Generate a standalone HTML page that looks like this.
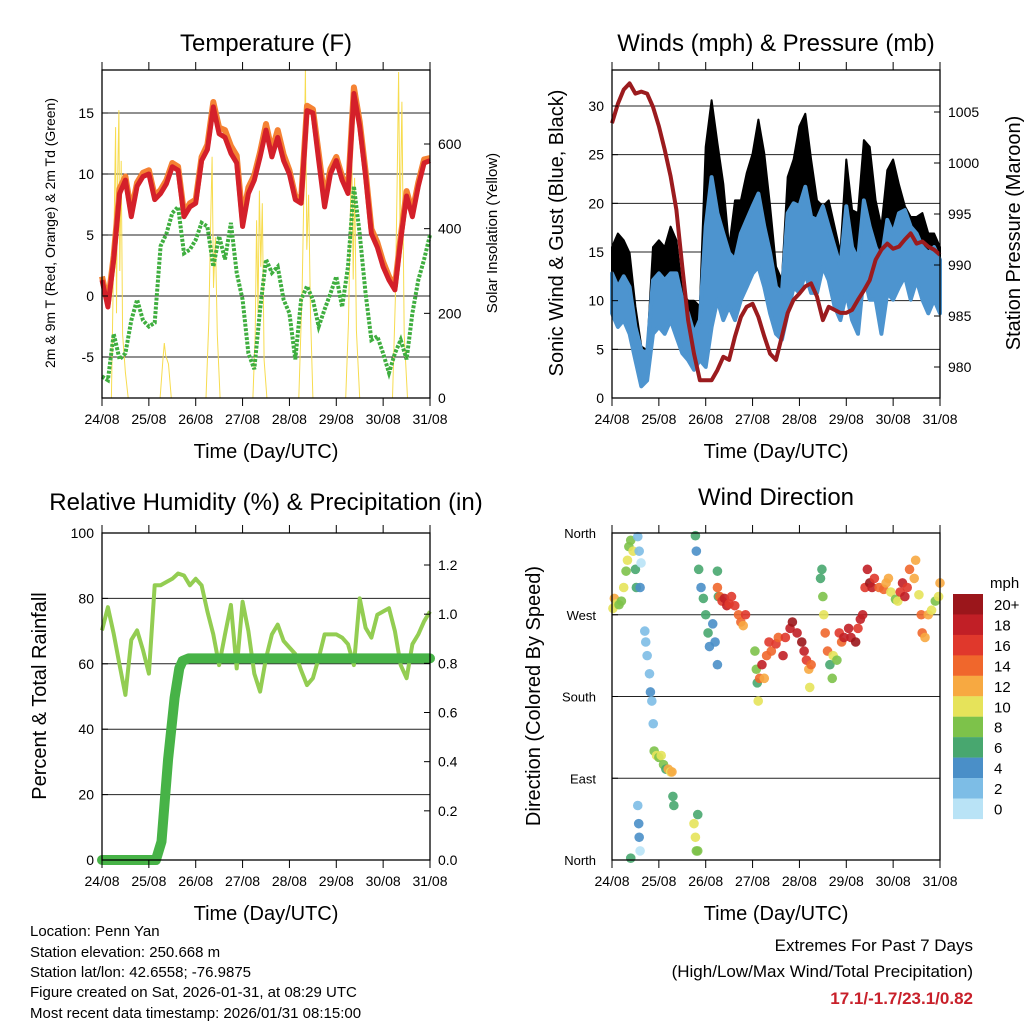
<!DOCTYPE html>
<html><head><meta charset="utf-8"><style>
body{margin:0;background:#fff;}
svg text{font-family:"Liberation Sans",sans-serif;fill:#000;}
</style></head><body>
<svg id="s" width="1024" height="1024" viewBox="0 0 1024 1024" xmlns="http://www.w3.org/2000/svg">
<rect width="1024" height="1024" fill="#fff"/>
<text x="266" y="51" font-size="24" text-anchor="middle">Temperature (F)</text>
<text x="776" y="51" font-size="24" text-anchor="middle">Winds (mph) &amp; Pressure (mb)</text>
<text x="266" y="510" font-size="24" text-anchor="middle">Relative Humidity (%) &amp; Precipitation (in)</text>
<text x="776" y="505" font-size="24" text-anchor="middle">Wind Direction</text>
<text transform="translate(55,233) rotate(-90)" font-size="14" text-anchor="middle">2m &amp; 9m T (Red, Orange) &amp; 2m Td (Green)</text>
<text transform="translate(497,233) rotate(-90)" font-size="15" text-anchor="middle">Solar Insolation (Yellow)</text>
<text transform="translate(563,233) rotate(-90)" font-size="20" text-anchor="middle">Sonic Wind &amp; Gust (Blue, Black)</text>
<text transform="translate(1020,233) rotate(-90)" font-size="20" text-anchor="middle">Station Pressure (Maroon)</text>
<text transform="translate(46,696) rotate(-90)" font-size="20" text-anchor="middle">Percent &amp; Total Rainfall</text>
<text transform="translate(540,696) rotate(-90)" font-size="20" text-anchor="middle">Direction (Colored By Speed)</text>
<g font-size="15">
<text x="30" y="936">Location: Penn Yan</text>
<text x="30" y="957">Station elevation: 250.668 m</text>
<text x="30" y="977">Station lat/lon: 42.6558; -76.9875</text>
<text x="30" y="997">Figure created on Sat, 2026-01-31, at 08:29 UTC</text>
<text x="30" y="1018">Most recent data timestamp: 2026/01/31 08:15:00</text>
</g>
<text x="973" y="951" font-size="17" text-anchor="end">Extremes For Past 7 Days</text>
<text x="973" y="977" font-size="17" text-anchor="end">(High/Low/Max Wind/Total Precipitation)</text>
<text x="973" y="1004" font-size="17" font-weight="bold" text-anchor="end" style="fill:#c8202a">17.1/-1.7/23.1/0.82</text>
</svg>
<script>
// ---- data ----
const dayLabels=["24/08","25/08","26/08","27/08","28/08","29/08","30/08","31/08"];
const tempT=[1.3,-0.9,3,8.4,9.5,6.5,9,9.8,10,7.9,8.4,9.2,10.6,10.3,6.5,7.3,7.6,11.1,12,15.5,13.3,13,11.7,10.9,5.7,8.4,9.5,11.4,13.6,11.4,13,11.1,10,7.9,7.6,15.2,15,11.1,7.3,10,11.1,9.5,8.4,16.6,13.9,9.8,5.1,4,2.4,1.3,0.5,4.6,8.2,6.5,9,10.9,11.1];
const tempT9=[1.6,-0.6,3.3,8.8,9.8,6.9,9.3,10.1,10.3,8.2,8.7,9.5,10.9,10.6,6.8,7.6,7.9,11.4,12.4,15.9,13.8,13.6,12.3,11.5,6.3,8.9,9.9,11.8,14.1,11.9,13.6,11.6,10.3,8.2,7.9,15.6,15.3,11.7,7.9,10.4,11.4,9.8,8.7,17.1,14.3,10.2,5.5,4.4,2.8,1.6,0.8,4.9,8.6,6.9,9.3,11.2,11.3];
const tempTd=[-6.6,-6.9,-3.1,-5.2,-4.7,-2,-0.3,-2,-2.5,-2.2,4.1,5.1,6.8,7.3,3.5,3.8,4.6,6,5.7,2.4,4.9,3,6,1.9,-0.3,-4.7,-6,-1.1,3,1.9,2.4,-0.3,-1.4,-5.2,-0.3,0.8,-0.3,-2.5,-1.1,0.2,1.6,-0.9,2.4,9,5.1,0.2,-3.6,-3.3,-4.7,-6.3,-4.7,-3.6,-5.2,-1.4,1.3,3,5];
const solarT=[0.2,0.26,0.29,0.31,0.33,0.36,0.38,0.41,0.44,0.5,0.56,1.24,1.3,1.33,1.36,1.42,1.48,2.22,2.28,2.32,2.35,2.38,2.42,2.46,2.52,3.22,3.27,3.3,3.33,3.36,3.39,3.42,3.46,3.52,4.2,4.27,4.31,4.34,4.37,4.41,4.45,4.5,5.2,5.26,5.3,5.33,5.36,5.39,5.43,5.5,6.2,6.26,6.3,6.33,6.36,6.4,6.45,6.52];
const solarV=[0,420,640,200,500,680,300,560,150,60,0,0,90,130,100,80,0,0,180,420,570,260,380,150,0,0,150,420,200,490,310,460,90,0,0,250,500,780,350,480,200,0,0,180,430,600,280,520,160,0,0,230,520,770,400,700,150,0];
const windLo=[8.7,7.3,8,6.6,3.9,1.2,1.8,6.6,7.3,6.6,8,6.3,4.6,3.9,2.9,3.9,3.2,7.3,10.1,8,9.4,8,10.1,11.4,12.8,13.5,11.4,8.7,6.6,6,8.7,11.4,10.8,12.8,10.8,10.8,13.5,12.1,9.4,8,10.8,8,6.6,12.8,10.1,10.1,6.6,10.8,10.1,11.4,12.5,10.1,12.1,10.1,8.7,10.1,8.7];
const windHi=[12.8,11.4,12.5,11.4,7.3,4.9,4.6,12.1,12.8,12.1,12.8,12.8,10.1,8.7,6.6,8,17.6,22.7,19,16.9,14.9,14.2,16.9,18.3,19.7,21,17.6,14.9,11.4,10.8,19,20,19.7,21.7,18.6,18.3,19.7,17.6,15.5,13.5,19.7,15.5,14.2,20.3,17.6,15.5,14.2,18.3,16.9,19,19.3,17.6,16.9,15.5,14.9,15.5,14.2];
const gustHi=[15.5,16.9,16.2,14.9,9.4,5.3,4.9,15.5,16.2,15.5,17.6,16.2,10.8,10,10,9.4,25.8,30.6,26.2,22,15.5,20.3,20.3,23.1,25.1,28.6,25.1,19.7,13.5,12.1,22.7,24.5,27.9,29.2,24.5,20.3,19.7,20.3,17.6,14.9,24.5,19.3,19,26.5,25.8,20.3,17.6,23.4,24.5,21.9,19.7,18.6,18.6,19,16.9,16.9,15.5];
const pressure=[1003.9,1005.8,1007.2,1007.8,1006.8,1007,1006.8,1005.5,1003.6,1001.3,998.7,995.4,989.8,984.6,981.3,978.7,978.7,978.7,979.7,981,980.7,983,984.9,985.9,986.2,984.9,983,981.3,980.7,983,985.3,986.6,987.2,987.9,988.2,986.9,984.6,985.9,985.6,985.3,985.3,985.6,986.6,987.5,988.5,990.5,991.5,992.1,991.6,991.8,992.5,993.1,992.1,992.3,991.8,991.5,991];
const rh=[70.2,77.3,69.2,59.6,50.5,67.3,70.2,64.2,57,84,84,85,86,87.6,87,84,86,84,76,69,59.6,69,78,58.6,79,70,57,51.5,61.7,69,72,67,65,63,58,53.5,55.6,61.7,69,69,69,68,66,59.6,80,71,68,75,76,77,70,59.6,55.6,66,69,73,76];
const precipT=[0,1.15,1.27,1.41,1.55,1.65,1.72,1.85,2.1,7];
const precipV=[0,0,0.075,0.41,0.66,0.78,0.81,0.82,0.82,0.82];
const dirT=[0.02,0.05,0.1,0.15,0.2,0.25,0.3,0.33,0.36,0.4,0.45,0.5,0.52,0.55,0.58,0.6,0.62,0.7,0.72,0.75,0.8,0.82,0.85,0.88,0.9,0.95,1.0,1.05,1.1,1.15,1.2,1.25,1.28,1.3,1.32,0.55,0.57,0.58,0.6,0.4,1.75,1.78,1.8,1.83,1.83,1.78,1.8,1.85,1.9,1.95,2.0,2.05,2.08,2.15,2.2,2.25,2.25,2.27,2.25,2.3,2.35,2.4,2.45,2.5,2.55,2.62,2.7,2.75,2.8,2.85,3.05,3.08,3.1,3.12,3.15,3.2,3.25,3.3,3.35,3.4,3.5,3.55,3.65,3.7,3.8,3.85,3.95,4.05,4.1,4.15,4.2,4.22,4.25,4.45,4.48,4.5,4.52,4.55,4.6,4.65,4.7,4.72,4.8,4.85,4.9,4.95,5.05,5.1,5.2,5.25,5.3,5.35,5.4,5.45,5.5,5.55,5.6,5.7,5.8,5.85,5.9,5.95,6.05,6.1,6.15,6.2,6.25,6.3,6.35,6.45,6.48,6.55,6.6,6.62,6.68,6.75,6.82,6.9,6.97,7.0];
const dirDeg=[277,288,282,281,285,300,318,330,345,352,340,320,300,356,340,300,327,252,240,225,205,185,175,150,120,115,113,115,105,100,100,97,97,70,60,60,40,25,10,2,40,25,10,50,10,357,340,320,300,288,270,250,235,260,240,215,318,290,300,290,285,288,280,282,290,280,270,262,258,270,230,210,195,175,200,215,200,225,240,230,238,245,225,245,255,262,250,240,230,220,210,190,215,310,320,290,270,250,230,215,200,225,220,250,240,245,255,245,240,255,265,270,300,320,305,300,310,300,298,305,310,295,287,285,295,305,290,300,320,310,330,292,270,250,245,270,275,285,290,305];
const dirSpd=[11,12,10,9,8,10,9,10,8,9,10,7,6,3,2,4,1,2,3,2,3,4,2,2,9,10,9,10,8,7,12,10,13,6,6,3,4,4,1,7,11,10,9,6,8,6,5,6,4,6,7,7,4,4,5,4,6,6,15,14,17,18,19,17,16,16,14,14,12,17,9,8,7,10,14,18,12,15,16,14,17,15,18,16,19,20,19,20,19,17,13,11,14,7,6,8,10,15,14,7,8,10,9,16,14,18,19,18,20,17,19,18,17,19,20,18,17,15,15,13,12,11,9,10,17,18,19,16,15,12,13,11,14,15,13,12,10,9,11,12];
const speedLabels=["20+","18","16","14","12","10","8","6","4","2","0"];
const speedColors=["#9b161b","#c11f26","#e0382c","#f0672c","#f7a941","#e6e35a","#7dc24a","#48a76f","#4a8fc8","#7dbde6","#b9e3f6"];
const tempTicks=[-5,0,5,10,15], solarTicks=[0,200,400,600], windTicks=[0,5,10,15,20,25,30], presTicks=[980,985,990,995,1000,1005], rhTicks=[0,20,40,60,80,100], precipTicks=[0,0.2,0.4,0.6,0.8,1.0,1.2];
const dirTicks=[0,90,180,270,360], dirNames=["North","East","South","West","North"];

const S=document.getElementById('s');
const NS="http://www.w3.org/2000/svg";
function mk(tag,attrs,parent){const e=document.createElementNS(NS,tag);for(const k in attrs)e.setAttribute(k,attrs[k]);(parent||S).appendChild(e);return e;}
function lin(d0,d1,r0,r1){return v=>r0+(v-d0)*(r1-r0)/(d1-d0);}
const step=i=>i/8;

function panel(name){
  const g=mk('g',{});
  
  
  return g;
}
function frame(g,x0,x1,y0,y1,xs,name){
  const f=mk('rect',{x:x0,y:y0,width:x1-x0,height:y1-y0,fill:'none',stroke:'#000','stroke-width':1.3},g);
  
  
  for(let d=0;d<=7;d++){
    const x=xs(d);
    mk('line',{x1:x,x2:x,y1:y1,y2:y1+8,stroke:'#000','stroke-width':1},g);
    mk('line',{x1:x,x2:x,y1:y0,y2:y0-8,stroke:'#000','stroke-width':1},g);
    const t=mk('text',{x:x,y:y1+26,'font-size':14,'text-anchor':'middle'},g);
    t.textContent=dayLabels[d];
    
    
  }
  const xt=mk('text',{x:(x0+x1)/2,y:y1+60,'font-size':20,'text-anchor':'middle'},g);
  xt.textContent="Time (Day/UTC)";
  
  
}
function grid(g,x0,x1,ys,ticks){for(const v of ticks){const y=ys(v);mk('line',{x1:x0,x2:x1,y1:y,y2:y,stroke:'#222','stroke-width':1},g);}}
function yTicks(g,x,ys,ticks,side,fmt,fs){
  for(const v of ticks){const y=ys(v);
    mk('line',{x1:x,x2:x+(side<0?6:-6),y1:y,y2:y,stroke:'#000'},g);
    const t=mk('text',{x:x+(side<0?-8:8),y:y+5,'font-size':fs||14,'text-anchor':side<0?'end':'start'},g);
    t.textContent=fmt?fmt(v):v;
    
    }
}
function pathOf(xa,ya,xs,ys){return xa.map((t,i)=>(i?'L':'M')+xs(t).toFixed(1)+','+ys(ya[i]).toFixed(1)).join('');}
const tIdx=tempT.map((_,i)=>step(i));

// ---- Temperature panel ----
{const x0=102,x1=430,y0=70,y1=398;const xs=lin(0,7,x0,x1);const ys=lin(0,5,296,235);const ysr=lin(0,600,398,144);
 const g=panel('temperature-chart');
 mk('clipPath',{id:'c1'},g).appendChild(mk('rect',{x:x0,y:y0,width:x1-x0,height:y1-y0},g));
 grid(g,x0,x1,ys,tempTicks);
 const sol=mk('path',{d:pathOf(solarT,solarV,xs,ysr),fill:'none',stroke:'#f7dc4f','stroke-width':1,'clip-path':'url(#c1)'},g);
 
 const td=mk('path',{d:pathOf(tIdx,tempTd,xs,ys),fill:'none',stroke:'#3fae3f','stroke-width':4,'stroke-dasharray':'3 1.5'},g);
 
 const t9=mk('path',{d:pathOf(tIdx,tempT9,xs,ys),fill:'none',stroke:'#f58233','stroke-width':6,'stroke-linejoin':'round'},g);
 
 const t2=mk('path',{d:pathOf(tIdx,tempT,xs,ys),fill:'none',stroke:'#d4202a','stroke-width':5,'stroke-linejoin':'round'},g);
 
 frame(g,x0,x1,y0,y1,xs,'temperature');
 yTicks(g,x0,ys,tempTicks,-1);yTicks(g,x1,ysr,solarTicks,1);}

// ---- Winds panel ----
{const x0=612,x1=940,y0=70,y1=398;const xs=lin(0,7,x0,x1);const ys=lin(0,30,398,106);const ysp=lin(980,1005,367,112);
 const g=panel('winds-chart');
 grid(g,x0,x1,ys,windTicks);
 const band=(lo,hi)=>pathOf(tIdx,hi,xs,ys)+pathOf(tIdx.slice().reverse(),lo.slice().reverse(),xs,ys).replace('M','L')+'Z';
 const gb=mk('path',{d:band(windLo,gustHi),fill:'#000',stroke:'#000','stroke-width':2,'stroke-linejoin':'round'},g);
 
 const wb=mk('path',{d:band(windLo,windHi),fill:'#4d94cf',stroke:'#4d94cf','stroke-width':4,'stroke-linejoin':'round'},g);
 
 const pr=mk('path',{d:pathOf(tIdx,pressure,xs,ysp),fill:'none',stroke:'#9b1b1e','stroke-width':4,'stroke-linejoin':'round'},g);
 
 frame(g,x0,x1,y0,y1,xs,'winds');
 yTicks(g,x0,ys,windTicks,-1);yTicks(g,x1,ysp,presTicks,1);}

// ---- RH panel ----
{const x0=102,x1=430,y0=533,y1=860;const xs=lin(0,7,x0,x1);const ys=lin(0,100,860,533);const ysr=lin(0,1.2,860,565);
 const g=panel('humidity-chart');
 grid(g,x0,x1,ys,rhTicks);
 const rl=mk('path',{d:pathOf(tIdx,rh,xs,ys),fill:'none',stroke:'#93cd52','stroke-width':4,'stroke-linejoin':'round'},g);
 
 const pl=mk('path',{d:pathOf(precipT,precipV,xs,ysr),fill:'none',stroke:'#47b347','stroke-width':10,'stroke-linecap':'round','stroke-linejoin':'round'},g);
 
 frame(g,x0,x1,y0,y1,xs,'humidity');
 yTicks(g,x0,ys,rhTicks,-1);yTicks(g,x1,ysr,precipTicks,1,v=>v.toFixed(1));}

// ---- Wind direction panel ----
{const x0=612,x1=940,y0=533,y1=860;const xs=lin(0,7,x0,x1);const ys=lin(0,360,860,533);
 const g=panel('wind-direction-chart');
 grid(g,x0,x1,ys,dirTicks);
 const col=s=>speedColors[10-Math.max(0,Math.min(10,Math.floor(s/2)))];
 dirT.forEach((t,i)=>{
   const c=mk('circle',{cx:xs(t),cy:ys(dirDeg[i]),r:4.8,fill:col(dirSpd[i]),'fill-opacity':0.9},g);
   
   
 });
 frame(g,x0,x1,y0,y1,xs,'wind-direction');
 dirTicks.forEach((v,i)=>{const y=ys(v);mk('line',{x1:x0,x2:x0+6,y1:y,y2:y,stroke:'#000'},g);
   const t=mk('text',{x:x0-16,y:y+5,'font-size':13,'text-anchor':'end'},g);t.textContent=dirNames[i];
   });
 const lg=mk('g',{},g);
 
 
 const mt=mk('text',{x:990,y:588,'font-size':15},lg);mt.textContent="mph";
 speedLabels.forEach((l,i)=>{const y=594+i*20.45;
   const r=mk('rect',{x:953,y:y,width:30,height:20.6,fill:speedColors[i]},lg);
   
   const t=mk('text',{x:994,y:y+16,'font-size':15},lg);t.textContent=l;
   });}
</script>
</body></html>
